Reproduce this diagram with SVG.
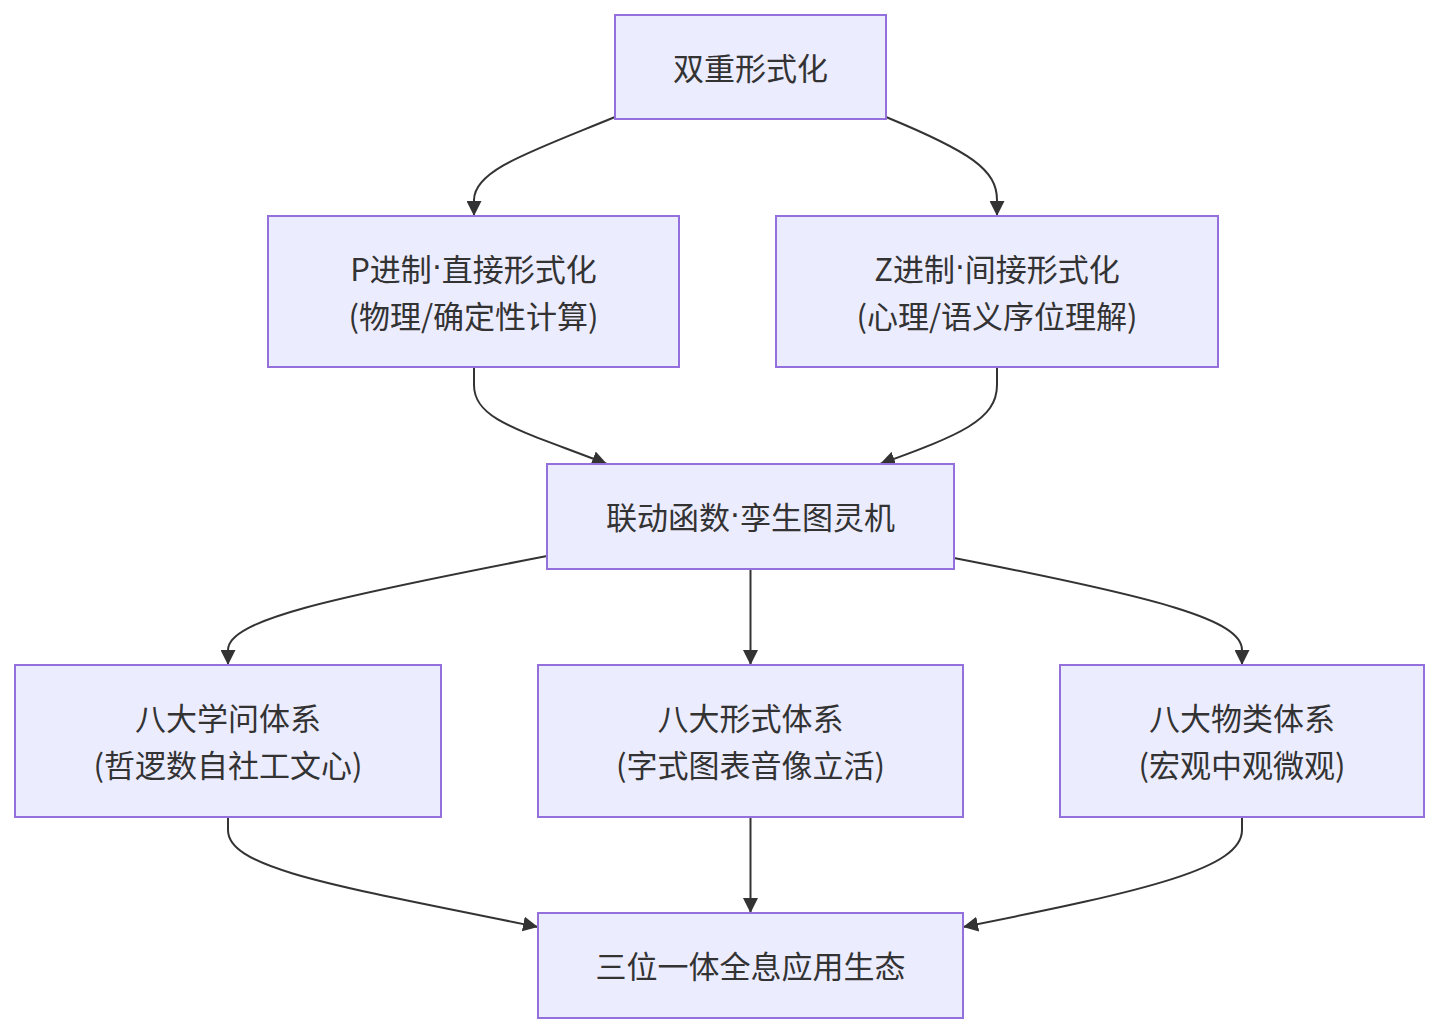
<svg xmlns="http://www.w3.org/2000/svg" width="1440" height="1034" viewBox="0 0 1440 1034">
<style>
.node rect{fill:#ECECFF;stroke:#9370DB;stroke-width:2}
.node text{font-family:"Noto Sans CJK SC","Noto Sans",sans-serif;font-size:31px;fill:#333333;text-anchor:middle;dominant-baseline:central}
.dot{font-family:"DejaVu Sans",sans-serif}
.edges path{fill:none;stroke:#333333;stroke-width:2}
</style>
<defs>
<marker id="arrow" viewBox="0 0 10 10" refX="10" refY="5" markerUnits="userSpaceOnUse" markerWidth="15" markerHeight="15" orient="auto">
<path d="M0,0 L10,5 L0,10 z" fill="#333333"/>
</marker>
</defs>
<rect width="1440" height="1034" fill="#ffffff"/>
<g class="edges">
<path d="M615,117 C530,152 474,170 474,200 L474,216" marker-end="url(#arrow)"/>
<path d="M886,117 C971,152 997,170 997,200 L997,216" marker-end="url(#arrow)"/>
<path d="M474,367 L474,385 C474,420 520,430 607,464" marker-end="url(#arrow)"/>
<path d="M997,367 L997,385 C997,420 960,435 880,464" marker-end="url(#arrow)"/>
<path d="M547,556 C330,598 228,620 228,650 L228,665" marker-end="url(#arrow)"/>
<path d="M750.5,569 L750.5,665" marker-end="url(#arrow)"/>
<path d="M954,558 C1160,598 1242,620 1242,650 L1242,665" marker-end="url(#arrow)"/>
<path d="M228,817 L228,830 C228,868 330,885 538,927" marker-end="url(#arrow)"/>
<path d="M750.5,817 L750.5,913" marker-end="url(#arrow)"/>
<path d="M1242,817 L1242,830 C1242,868 1150,890 963,927" marker-end="url(#arrow)"/>
</g>
<g id="A" class="node"><rect x="615" y="15" width="271" height="104"/><text x="750.5" y="66">双重形式化</text></g>
<g id="B" class="node"><rect x="268" y="216" width="411" height="151"/><text x="473.5" y="267">P进制<tspan class="dot">·</tspan>直接形式化</text><text x="473.5" y="314">(物理/确定性计算)</text></g>
<g id="C" class="node"><rect x="776" y="216" width="442" height="151"/><text x="997" y="267">Z进制<tspan class="dot">·</tspan>间接形式化</text><text x="997" y="314">(心理/语义序位理解)</text></g>
<g id="D" class="node"><rect x="547" y="464" width="407" height="105"/><text x="750.5" y="515">联动函数<tspan class="dot">·</tspan>孪生图灵机</text></g>
<g id="E" class="node"><rect x="15" y="665" width="426" height="152"/><text x="228" y="716">八大学问体系</text><text x="228" y="763">(哲逻数自社工文心)</text></g>
<g id="F" class="node"><rect x="538" y="665" width="425" height="152"/><text x="750.5" y="716">八大形式体系</text><text x="750.5" y="763">(字式图表音像立活)</text></g>
<g id="G" class="node"><rect x="1060" y="665" width="364" height="152"/><text x="1242" y="716">八大物类体系</text><text x="1242" y="763">(宏观中观微观)</text></g>
<g id="H" class="node"><rect x="538" y="913" width="425" height="105"/><text x="750.5" y="964">三位一体全息应用生态</text></g>
</svg>
